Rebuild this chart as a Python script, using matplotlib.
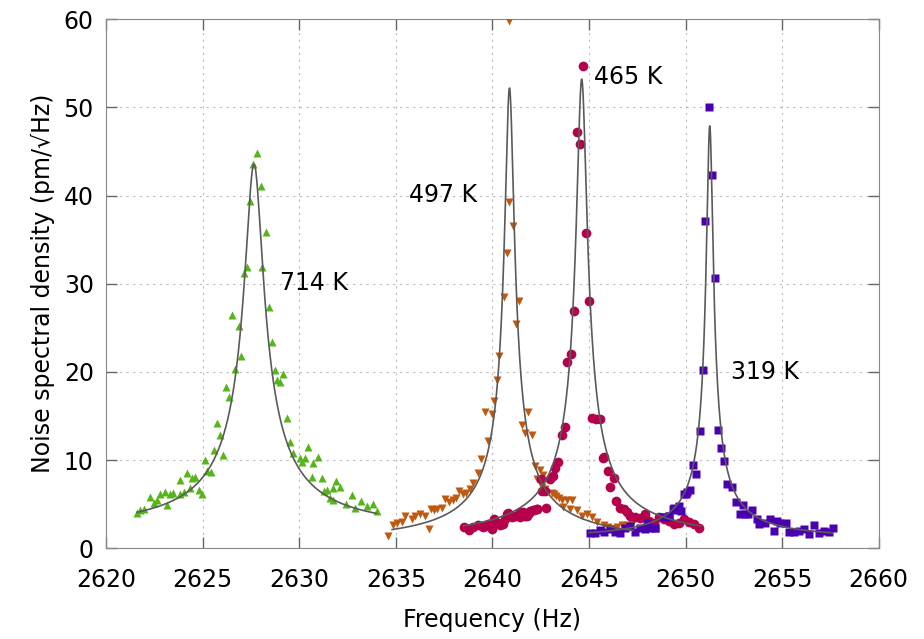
import numpy as np
import matplotlib
matplotlib.use("Agg")
import matplotlib.pyplot as plt

plt.rcParams["font.family"] = ["DejaVu Sans"]

# --- measured points (frequency in Hz, density in pm/sqrt(Hz)) ---
f_714 = [2621.59, 2621.76, 2621.93, 2622.28, 2622.45, 2622.62, 2622.8, 2623.05, 2623.14, 2623.3,
         2623.48, 2623.83, 2623.83, 2624.0, 2624.17, 2624.35, 2624.43, 2624.6, 2624.8, 2624.95,
         2625.12, 2625.2, 2625.43, 2625.59, 2625.71, 2625.9, 2626.07, 2626.21, 2626.36, 2626.53,
         2626.69, 2626.86, 2627.0, 2627.14, 2627.28, 2627.45, 2627.6, 2627.8, 2628.0, 2628.08,
         2628.26, 2628.45, 2628.59, 2628.72, 2628.83, 2629.0, 2629.17, 2629.38, 2629.52, 2629.69,
         2630.04, 2630.12, 2630.29, 2630.47, 2630.64, 2630.72, 2630.98, 2631.15, 2631.3, 2631.41,
         2631.59, 2631.76, 2631.76, 2631.9, 2632.1, 2632.4, 2632.7, 2632.9, 2633.2, 2633.5,
         2633.8, 2634.0]
y_714 = [4.0, 4.3, 4.5, 5.8, 5.1, 5.5, 6.2, 6.4, 4.9, 6.2,
         6.3, 6.2, 7.7, 6.4, 8.5, 6.8, 7.95, 8.1, 6.6, 6.2,
         10.0, 8.8, 8.6, 11.1, 14.2, 12.8, 10.6, 18.3, 17.2, 26.4,
         20.3, 25.2, 21.8, 31.2, 31.9, 39.4, 43.6, 44.8, 41.1, 31.9,
         35.9, 27.4, 23.4, 20.2, 19.1, 18.9, 19.8, 14.8, 12.0, 10.8,
         10.2, 9.8, 10.2, 11.5, 8.1, 9.7, 10.3, 7.95, 6.5, 6.6,
         5.7, 6.8, 5.5, 7.6, 6.9, 5.0, 6.0, 4.6, 5.4, 4.8,
         5.0, 4.2]

f_497 = [2634.6, 2634.86, 2635.04, 2635.3, 2635.47, 2635.82, 2636.0, 2636.26, 2636.53, 2636.7,
         2636.79, 2636.96, 2637.14, 2637.4, 2637.54, 2637.75, 2637.93, 2638.1, 2638.28, 2638.46,
         2638.63, 2638.81, 2638.98, 2639.25, 2639.42, 2639.63, 2639.77, 2639.95, 2640.07, 2640.25,
         2640.35, 2640.6, 2640.74, 2640.88, 2640.88, 2641.05, 2641.23, 2641.35, 2641.53, 2641.7,
         2641.84, 2642.05, 2642.2, 2642.29, 2642.46, 2642.55, 2642.63, 2642.72, 2643.07, 2643.2,
         2643.3, 2643.46, 2643.6, 2643.67, 2643.85, 2644.0, 2644.1, 2644.37, 2644.63, 2644.89,
         2645.15, 2645.4, 2645.75, 2646.0, 2646.3, 2646.45, 2646.7, 2646.97, 2647.2]
y_497 = [1.4, 2.6, 2.9, 3.0, 3.7, 3.3, 3.7, 3.9, 3.7, 2.2,
         4.5, 4.3, 4.5, 4.6, 5.6, 5.2, 5.5, 5.7, 6.5, 6.1,
         6.3, 6.7, 7.4, 8.5, 10.1, 15.5, 12.2, 15.2, 16.7, 19.1,
         21.8, 28.5, 33.5, 39.3, 59.8, 36.6, 25.4, 28.0, 14.0, 13.1,
         15.4, 12.9, 9.3, 7.9, 8.9, 6.9, 8.3, 6.7, 6.3, 6.1,
         5.9, 5.7, 5.5, 4.7, 5.5, 4.5, 5.5, 4.3, 3.7, 3.9,
         3.5, 3.0, 2.6, 2.4, 2.2, 2.4, 2.6, 2.6, 2.8]

f_465 = [2638.54, 2638.8, 2638.98, 2639.25, 2639.5, 2639.6, 2639.77, 2639.86, 2639.95, 2640.07,
         2640.12, 2640.3, 2640.39, 2640.55, 2640.65, 2640.76, 2640.82, 2640.99, 2641.09, 2641.2,
         2641.42, 2641.44, 2641.56, 2641.7, 2641.77, 2641.88, 2641.94, 2642.11, 2642.14, 2642.29,
         2642.32, 2642.5, 2642.55, 2642.72, 2642.77, 2642.98, 2643.15, 2643.24, 2643.41, 2643.59,
         2643.76, 2643.88, 2644.06, 2644.23, 2644.4, 2644.54, 2644.68, 2644.85, 2645.0, 2645.15,
         2645.37, 2645.55, 2645.7, 2645.8, 2645.96, 2646.1, 2646.27, 2646.4, 2646.6, 2646.8,
         2646.97, 2647.14, 2647.4, 2647.66, 2647.92, 2648.1, 2648.35, 2648.6, 2648.87, 2649.13,
         2649.4, 2649.65, 2649.9, 2650.17, 2650.43, 2650.7]
y_465 = [2.4, 2.1, 2.4, 2.6, 2.4, 2.5, 2.8, 2.7, 2.2, 3.3,
         2.8, 2.9, 2.6, 2.8, 3.3, 3.9, 4.0, 3.5, 3.7, 3.7,
         3.5, 4.1, 4.1, 3.7, 3.7, 4.0, 4.2, 4.3, 4.3, 4.5,
         4.5, 7.9, 6.5, 6.5, 4.6, 7.8, 8.2, 9.1, 9.8, 12.9,
         13.7, 21.1, 22.0, 26.9, 47.2, 45.8, 54.7, 35.7, 28.0, 14.8,
         14.7, 14.7, 10.2, 10.3, 8.8, 6.9, 8.0, 5.4, 4.6, 4.5,
         4.1, 3.7, 3.5, 3.4, 3.9, 3.1, 2.9, 3.5, 3.3, 3.1,
         2.7, 2.9, 3.3, 3.0, 2.7, 2.3]

f_319 = [2645.03, 2645.32, 2645.58, 2645.8, 2646.1, 2646.36, 2646.62, 2646.88, 2647.14, 2647.4,
         2647.66, 2647.9, 2648.0, 2648.16, 2648.42, 2648.44, 2648.86, 2648.87, 2649.12, 2649.13,
         2649.35, 2649.4, 2649.56, 2649.65, 2649.77, 2649.91, 2650.0, 2650.09, 2650.21, 2650.4,
         2650.56, 2650.72, 2650.88, 2651.02, 2651.19, 2651.35, 2651.53, 2651.67, 2651.84, 2651.98,
         2652.16, 2652.4, 2652.63, 2652.8, 2652.95, 2653.07, 2653.25, 2653.42, 2653.68, 2653.8,
         2654.09, 2654.39, 2654.56, 2654.74, 2654.91, 2655.18, 2655.35, 2655.61, 2655.88, 2656.14,
         2656.37, 2656.67, 2656.9, 2657.19, 2657.42, 2657.63]
y_319 = [1.7, 1.7, 2.1, 1.8, 2.2, 1.9, 1.7, 2.3, 2.5, 1.9,
         2.3, 2.2, 2.9, 2.3, 2.3, 2.3, 3.6, 3.5, 3.7, 3.7,
         4.5, 4.6, 4.3, 4.8, 4.2, 6.2, 6.2, 6.4, 6.6, 9.4,
         8.4, 13.3, 20.2, 37.1, 50.0, 42.3, 30.6, 13.4, 11.4, 9.9,
         7.3, 7.0, 5.2, 3.9, 4.9, 3.9, 3.9, 4.3, 3.3, 2.8,
         2.9, 3.3, 2.0, 3.1, 2.9, 2.9, 1.8, 1.8, 2.0, 2.2,
         1.6, 2.6, 1.7, 2.0, 1.8, 2.3]

# --- fitted resonance parameters (centre, peak height, half width, background, range) ---
fit_f0 = [2627.65, 2640.88, 2644.62, 2651.25]
fit_peak = [43.5, 52.2, 53.2, 47.9]
fit_gamma = [0.48, 0.24, 0.27, 0.17]
fit_bg = [2.2, 0.5, 1.0, 1.2]
fit_fmin = [2621.6, 2634.8, 2638.5, 2645.0]
fit_fmax = [2634.0, 2647.3, 2650.8, 2657.6]

labels = ["714 K", "497 K", "465 K", "319 K"]
label_f = [2629.0, 2635.7, 2645.25, 2652.33]
label_y = [30.1, 40.1, 53.4, 20.0]

colors = ["#55b51a", "#c0590f", "#b5004b", "#4b00b0"]
markers = ["^", "v", "o", "s"]
msizes = [5.5, 5.5, 7, 6]

fig = plt.figure(figsize=(9.24, 6.39), dpi=100)
ax = fig.add_axes([0.115, 0.142, 0.836, 0.828])

series = [(f_714, y_714), (f_497, y_497), (f_465, y_465), (f_319, y_319)]
for i, (fx, fy) in enumerate(series):
    ax.plot(fx, fy, linestyle="none", marker=markers[i], ms=msizes[i],
            color=colors[i], mec="none", zorder=3)

for i in range(4):
    ff = np.linspace(fit_fmin[i], fit_fmax[i], 800)
    amp = (fit_peak[i] * fit_gamma[i]) ** 2 / ((ff - fit_f0[i]) ** 2 + fit_gamma[i] ** 2)
    ax.plot(ff, np.sqrt(amp + fit_bg[i] ** 2), color="#5a5a5a", lw=1.2, zorder=4)

for i in range(4):
    ax.text(label_f[i], label_y[i], labels[i], fontsize=17, ha="left", va="center")

ax.set_xlim(2620, 2660)
ax.set_ylim(0, 60)
ax.set_xticks(np.arange(2620, 2661, 5))
ax.set_yticks(np.arange(0, 61, 10))
ax.grid(True, linestyle=(0, (2, 4)), color="#bbbbbb", lw=0.8)
ax.tick_params(direction="in", length=8, width=1, colors="#666666",
               labelcolor="black", labelsize=17, top=True, right=True)
ax.tick_params(axis="x", pad=14)
ax.tick_params(axis="y", pad=9)
for s in ax.spines.values():
    s.set_color("#888888")
ax.set_xlabel("Frequency (Hz)", fontsize=17, labelpad=12)
ax.set_ylabel("Noise spectral density (pm/\u221aHz)", fontsize=17, labelpad=6)

fig.savefig("out.png", dpi=100)
